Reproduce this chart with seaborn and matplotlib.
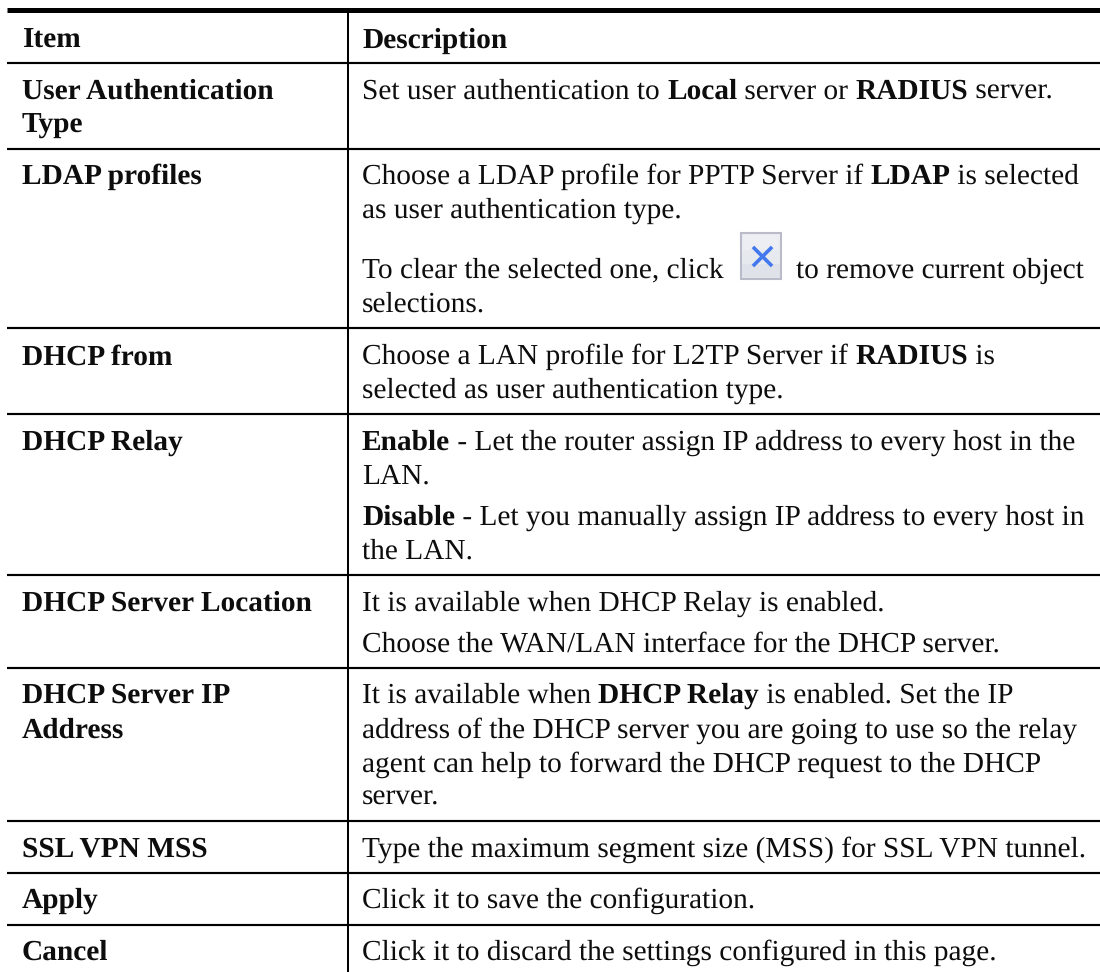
import matplotlib
matplotlib.use("Agg")
import matplotlib.pyplot as plt
from matplotlib.patches import Rectangle
import seaborn as sns
import pandas as pd

sns.set_theme(style="white")
plt.rcParams['font.family'] = ['Liberation Serif', 'DejaVu Serif']
plt.rcParams['text.hinting'] = 'no_hinting'
plt.rcParams['text.hinting_factor'] = 8

# ---- table content ----
header_item = "Item"
header_desc = "Description"
items = [
    ["User Authentication", "Type"],
    ["LDAP profiles"],
    ["DHCP from"],
    ["DHCP Relay"],
    ["DHCP Server Location"],
    ["DHCP Server IP", "Address"],
    ["SSL VPN MSS"],
    ["Apply"],
    ["Cancel"],
]
# each description line is a list of (text, is_bold) runs
desc_lines = [
    [("Set user authentication to ", 0), ("Local", 1), (" server or ", 0), ("RADIUS", 1), (" server.", 0)],
    [("Choose a LDAP profile for PPTP Server if ", 0), ("LDAP", 1), (" is selected", 0)],
    [("as user authentication type.", 0)],
    [("To clear the selected one, click", 0)],
    [("selections.", 0)],
    [("Choose a LAN profile for L2TP Server if ", 0), ("RADIUS", 1), (" is", 0)],
    [("selected as user authentication type.", 0)],
    [("Enable", 1), (" - Let the router assign IP address to every host in the", 0)],
    [("LAN.", 0)],
    [("Disable", 1), (" - Let you manually assign IP address to every host in", 0)],
    [("the LAN.", 0)],
    [("It is available when DHCP Relay is enabled.", 0)],
    [("Choose the WAN/LAN interface for the DHCP server.", 0)],
    [("It is available when ", 0), ("DHCP Relay", 1), (" is enabled. Set the IP", 0)],
    [("address of the DHCP server you are going to use so the relay", 0)],
    [("agent can help to forward the DHCP request to the DHCP", 0)],
    [("server.", 0)],
    [("Type the maximum segment size (MSS) for SSL VPN tunnel.", 0)],
    [("Click it to save the configuration.", 0)],
    [("Click it to discard the settings configured in this page.", 0)],
]
after_icon_text = "to remove current object"

# ---- layout (pixels) ----
rule_rows = [62.7, 149, 328, 413.7, 575, 668, 821, 872.7, 924.7]
item_base = [[98.7, 132.7], [184], [364.5], [450], [610.7], [703, 737.7], [857], [908], [960]]
desc_base = [98.7, 184, 217.7, 278, 312, 363.5, 397.7, 450, 484, 525, 559, 610.7,
             651.7, 703, 737.7, 771.7, 805, 857, 908, 960]
FS = 21.2
INK = "#0d0d0d"

fig = plt.figure(figsize=(11, 9.72), dpi=100, facecolor="white")
ax = fig.add_axes([0, 0, 1, 1])
ax.set_xlim(0, 1100)
ax.set_ylim(972, 0)
ax.axis("off")

rules = pd.DataFrame(
    [{"x": x, "y": y, "rule": i} for i, y in enumerate(rule_rows) for x in (7, 1100)]
)
sns.lineplot(data=rules, x="x", y="y", units="rule", estimator=None, color="black",
             lw=1.55, solid_capstyle="butt", ax=ax, legend=False)
sns.lineplot(x=[7, 1100], y=[10.5, 10.5], color="black", lw=3.6, solid_capstyle="butt",
             ax=ax, legend=False, estimator=None)
sns.lineplot(x=[347.7, 347.7], y=[12, 972], color="black", lw=1.45, solid_capstyle="butt",
             ax=ax, legend=False, estimator=None, sort=False)

renderer = fig.canvas.get_renderer()


def put(x, y, s, bold):
    t = ax.text(x, y, s, fontsize=FS, fontweight="bold" if bold else "normal",
                color=INK, ha="left", va="baseline")
    return t


def run_width(s, bold):
    # measure with a sentinel pair so leading / trailing blanks are counted
    probe = ax.text(0, 0, "|" + s + "|", fontsize=FS, fontweight="bold" if bold else "normal")
    w = probe.get_window_extent(renderer).width
    probe.set_text("||")
    w -= probe.get_window_extent(renderer).width
    probe.remove()
    return w


put(22, 48, header_item, True)
put(362, 48, header_desc, True)
for lines, bases in zip(items, item_base):
    for s, b in zip(lines, bases):
        put(22, b, s, True)
for runs, b in zip(desc_lines, desc_base):
    x = 362
    for s, bold in runs:
        put(x, b, s, bold)
        x += run_width(s, bold)

# clear-selection icon in the LDAP row (light vertical gradient in a few bands)
ax.add_patch(Rectangle((740.5, 232.5), 40, 46, fc="#eceef3", ec="#b9bcc8", lw=1.5))
ax.add_patch(Rectangle((741.5, 250), 38, 14, fc="#e6e9ee", ec="none"))
ax.add_patch(Rectangle((741.5, 264), 38, 14, fc="#dfe2e8", ec="none"))
sns.scatterplot(x=[762], y=[256], marker="x", s=190, color="#4277ee", linewidth=2.6,
                ax=ax, legend=False)
put(795.5, 278, after_icon_text, False)

ax.set_xlim(0, 1100)
ax.set_ylim(972, 0)
ax.set_xlabel("")
ax.set_ylabel("")
fig.savefig("out.png", dpi=100, facecolor="white")
